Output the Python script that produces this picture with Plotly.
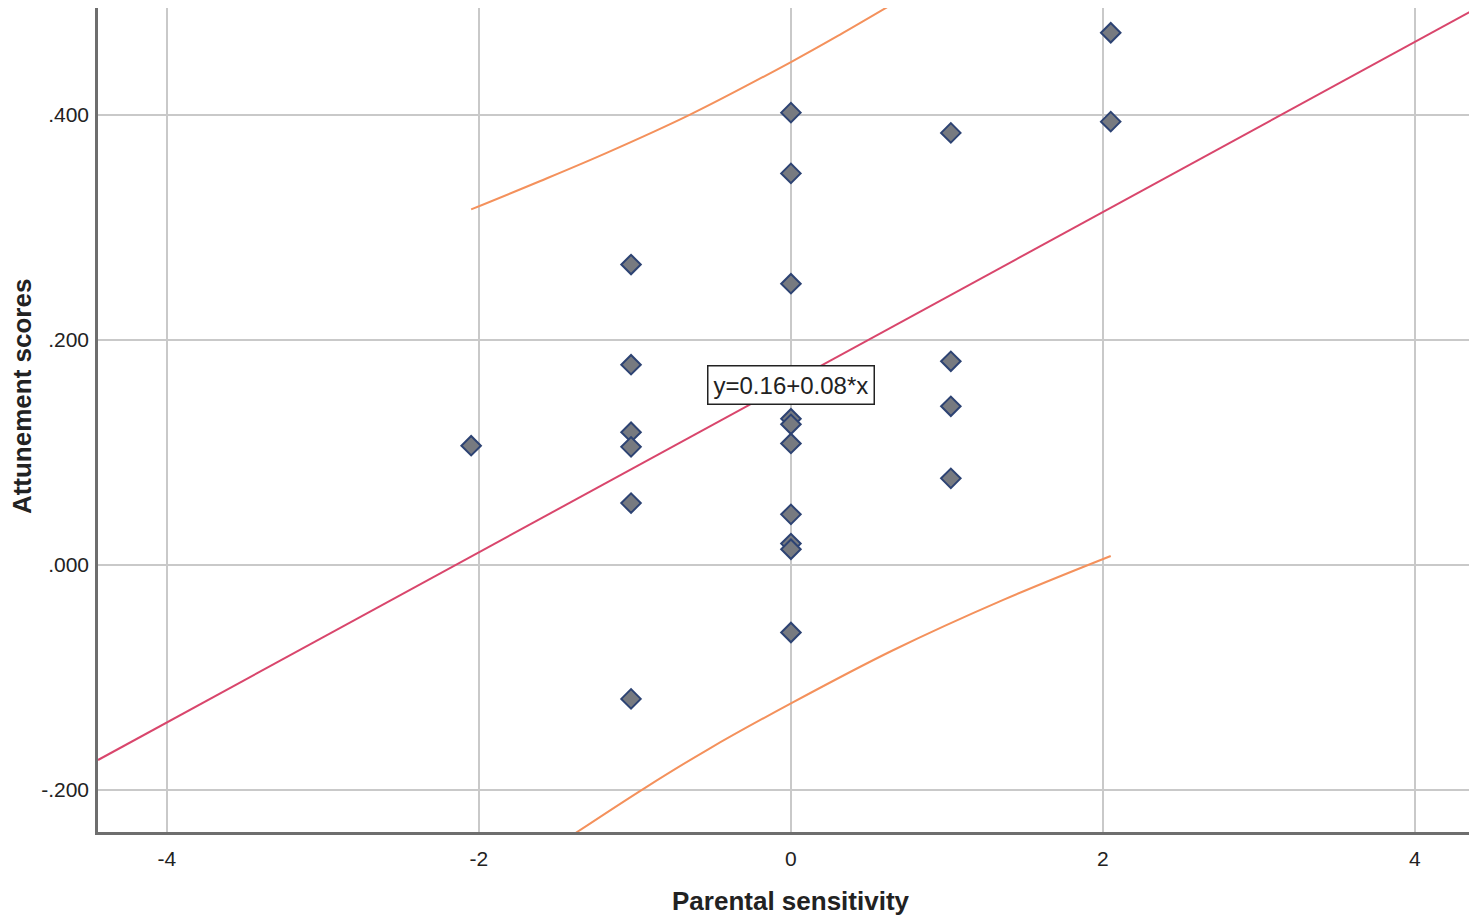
import plotly.graph_objects as go

# 散点数据 (Parental sensitivity vs Attunement scores)
SENSITIVITY = [-2.05,
               -1.025, -1.025, -1.025, -1.025, -1.025, -1.025,
               0, 0, 0, 0, 0, 0, 0, 0, 0, 0,
               1.025, 1.025, 1.025, 1.025,
               2.05, 2.05]
ATTUNEMENT = [0.106,
              0.267, 0.178, 0.118, 0.105, 0.055, -0.119,
              0.402, 0.348, 0.250, 0.130, 0.125, 0.108, 0.045, 0.019, 0.014, -0.060,
              0.384, 0.181, 0.141, 0.077,
              0.473, 0.394]

# 拟合线 y = a + b*x
FIT_A = 0.1625
FIT_B = 0.0756
FIT_LABEL = "y=0.16+0.08*x"

# 95% 预测区间
UPPER_X = [-2.05, -1.61, -1.185, -0.65, 0.0, 0.31, 0.62]
UPPER_Y = [0.316, 0.341, 0.366, 0.400, 0.447, 0.471, 0.496]
LOWER_X = [-1.40, -0.935, -0.533, 0.0, 0.651, 1.361, 2.05]
LOWER_Y = [-0.240, -0.198, -0.164, -0.123, -0.076, -0.031, 0.008]

X_RANGE = [-4.442, 4.353]
Y_RANGE = [-0.2373, 0.495]
X_TICKS = [-4, -2, 0, 2, 4]
X_TICK_TEXT = ["-4", "-2", "0", "2", "4"]
Y_TICKS = [-0.2, 0.0, 0.2, 0.4]
Y_TICK_TEXT = ["-.200", ".000", ".200", ".400"]

FONT = "Liberation Sans, Arial, sans-serif"
GRID = "#c9c9c9"

fig = go.Figure()

# 拟合线 (贯穿整个 x 范围)
fig.add_trace(go.Scatter(
    x=X_RANGE, y=[FIT_A + FIT_B * v for v in X_RANGE],
    mode='lines', line=dict(color='#d9466c', width=2),
    hoverinfo='skip', showlegend=False,
))

# 预测区间上下界
for xs, ys in [(UPPER_X, UPPER_Y), (LOWER_X, LOWER_Y)]:
    fig.add_trace(go.Scatter(
        x=xs, y=ys, mode='lines',
        line=dict(color='#f4915c', width=2, shape='spline'),
        hoverinfo='skip', showlegend=False,
    ))

# 散点
fig.add_trace(go.Scatter(
    x=SENSITIVITY, y=ATTUNEMENT, mode='markers',
    marker=dict(symbol='diamond', size=15, color='#777a80',
                line=dict(color='#2d4373', width=2)),
    showlegend=False,
))

fig.add_annotation(
    x=0, y=0.16, text=FIT_LABEL, showarrow=False,
    font=dict(family=FONT, size=24, color='#222222'),
    bgcolor='white', bordercolor='#222222', borderwidth=1.5, borderpad=5,
)

# 轴标题用 annotation，位置跟原图一致（SPSS 不是严格居中）
fig.add_annotation(
    x=0, xref='x', y=0, yref='paper', yshift=-69,
    text='<b>Parental sensitivity</b>', showarrow=False,
    font=dict(family=FONT, size=26, color='#222222'),
    xanchor='center', yanchor='middle',
)
fig.add_annotation(
    x=0, xref='paper', xshift=-76, y=0.529, yref='paper',
    text='<b>Attunement scores</b>', showarrow=False, textangle=-90,
    font=dict(family=FONT, size=26, color='#222222'),
    xanchor='center', yanchor='middle',
)

# 页面 body 默认 8px 外边距，整体向左上收 8px
fig.update_layout(
    width=1469, height=915,
    margin=dict(l=90, r=7, t=0, b=91),
    plot_bgcolor='white', paper_bgcolor='white',
    font=dict(family=FONT, color='#222222'),
    showlegend=False,
)
fig.update_xaxes(
    range=X_RANGE, tickvals=X_TICKS, ticktext=X_TICK_TEXT, ticks='',
    ticklabelstandoff=6,
    tickfont=dict(size=21), showgrid=True, gridcolor=GRID, gridwidth=2,
    zeroline=False, showline=True, linecolor='#6e6e6e', linewidth=2.5,
)
fig.update_yaxes(
    range=Y_RANGE, tickvals=Y_TICKS, ticktext=Y_TICK_TEXT, ticks='',
    ticklabelstandoff=2,
    tickfont=dict(size=21), showgrid=True, gridcolor=GRID, gridwidth=2,
    zeroline=False, showline=True, linecolor='#6e6e6e', linewidth=2.5,
)

fig.write_html("out.html")
